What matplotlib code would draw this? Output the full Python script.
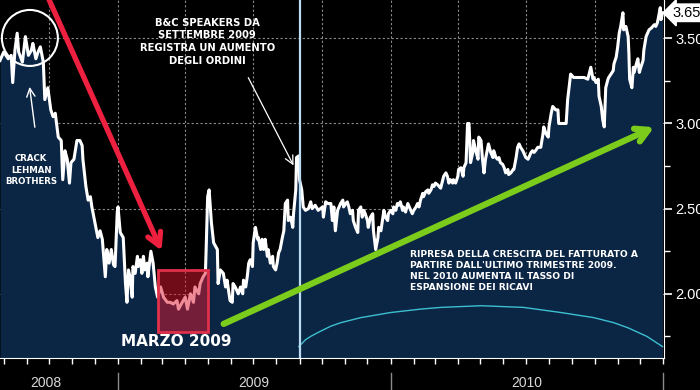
import matplotlib
matplotlib.use('Agg')
import matplotlib.pyplot as plt
import matplotlib.dates as mdates
from matplotlib.patches import Rectangle, Ellipse
import numpy as np

# B&C Speakers share price, Jul 2008 - Dec 2010 (days counted from start)
start = np.datetime64('2008-07-27')
days = [0, 5, 11, 15, 17, 20, 23, 25, 30, 34,
        38, 42, 44, 48, 51, 54, 58, 60, 64, 68,
        71, 74, 78, 82, 83, 84, 87, 90, 93, 95,
        99, 103, 107, 110, 111, 115, 118, 121, 123, 127,
        131, 134, 137, 141, 143, 146, 149, 152, 154, 157,
        158, 161, 165, 168, 170, 172, 174, 177, 178, 181,
        184, 185, 188, 190, 192, 194, 197, 198, 202, 205,
        208, 211, 215, 219, 224, 228, 232, 237, 239, 244,
        248, 251, 255, 259, 261, 266, 268, 272, 275, 276,
        278, 280, 283, 286, 291, 292, 295, 299, 302, 304,
        308, 311, 312, 315, 319, 322, 325, 326, 329, 331,
        333, 335, 338, 339, 342, 345, 346, 349, 351, 353,
        355, 358, 359, 362, 365, 366, 369, 371, 373, 375,
        378, 380, 382, 385, 386, 389, 392, 393, 396, 397,
        400, 401, 404, 406, 409, 413, 416, 418, 422, 426,
        432, 433, 436, 439, 443, 445, 447, 449, 452, 456,
        459, 460, 463, 465, 467, 469, 472, 473, 476, 479,
        480, 483, 485, 487, 489, 492, 493, 496, 499, 500,
        503, 506, 507, 510, 512, 514, 516, 519, 520, 523,
        526, 527, 530, 532, 534, 536, 539, 540, 543, 546,
        547, 550, 552, 554, 557, 559, 561, 563, 566, 567,
        570, 573, 574, 577, 579, 581, 583, 586, 590, 594,
        597, 599, 601, 603, 606, 607, 610, 613, 614, 617,
        620, 621, 624, 626, 628, 630, 633, 634, 637, 640,
        641, 644, 646, 648, 650, 653, 654, 657, 660, 661,
        664, 666, 668, 670, 673, 675, 677, 680, 681, 684,
        687, 688, 691, 693, 695, 697, 700, 701, 704, 707,
        708, 711, 713, 715, 717, 720, 721, 724, 727, 728,
        731, 734, 735, 738, 740, 742, 744, 747, 748, 754,
        758, 760, 764, 768, 774, 778, 782, 787, 791, 794,
        795, 798, 801, 802, 805, 807, 809, 810, 811, 814,
        815, 818, 821, 822, 825, 827, 829, 831, 834, 835,
        838, 841, 842, 843, 846, 848, 849, 852, 854, 856,
        858, 861, 862, 865, 868, 869, 872, 874, 876, 878,
        880, 881, 884, 885, 887]
price = [3.37, 3.42, 3.38, 3.40, 3.24, 3.43, 3.53, 3.42, 3.36, 3.51,
         3.40, 3.43, 3.47, 3.38, 3.42, 3.45, 3.36, 3.14, 3.21, 3.08,
         3.04, 3.06, 2.92, 2.90, 2.79, 2.67, 2.84, 2.79, 2.65, 2.77,
         2.79, 2.90, 2.90, 2.87, 2.79, 2.63, 2.55, 2.57, 2.51, 2.42,
         2.33, 2.37, 2.32, 2.10, 2.26, 2.18, 2.26, 2.17, 2.16, 2.48,
         2.51, 2.36, 2.33, 2.06, 1.95, 2.14, 2.10, 1.98, 2.16, 2.12,
         2.22, 2.16, 2.20, 2.12, 2.22, 2.14, 2.18, 2.10, 2.25, 2.18,
         2.04, 1.98, 2.04, 1.98, 1.95, 1.95, 1.94, 1.96, 1.91, 1.95,
         1.98, 1.91, 2.00, 1.95, 2.04, 2.00, 2.06, 2.10, 2.12, 2.26,
         2.57, 2.61, 2.42, 2.30, 2.26, 2.06, 2.14, 2.12, 2.04, 2.08,
         1.96, 1.95, 2.06, 2.04, 2.00, 2.04, 2.00, 2.08, 2.04, 2.10,
         2.18, 2.20, 2.16, 2.30, 2.39, 2.32, 2.33, 2.26, 2.32, 2.26,
         2.32, 2.22, 2.26, 2.18, 2.22, 2.16, 2.14, 2.18, 2.24, 2.26,
         2.33, 2.37, 2.53, 2.55, 2.43, 2.45, 2.39, 2.47, 2.61, 2.80,
         2.81, 2.67, 2.61, 2.51, 2.49, 2.50, 2.54, 2.50, 2.52, 2.49,
         2.51, 2.45, 2.54, 2.53, 2.53, 2.43, 2.51, 2.37, 2.49, 2.53,
         2.55, 2.51, 2.53, 2.54, 2.51, 2.47, 2.49, 2.43, 2.39, 2.36,
         2.49, 2.51, 2.45, 2.49, 2.47, 2.43, 2.39, 2.45, 2.47, 2.37,
         2.26, 2.33, 2.39, 2.37, 2.43, 2.49, 2.45, 2.43, 2.47, 2.49,
         2.47, 2.51, 2.49, 2.53, 2.52, 2.54, 2.49, 2.51, 2.48, 2.53,
         2.52, 2.49, 2.47, 2.49, 2.51, 2.53, 2.51, 2.55, 2.59, 2.57,
         2.60, 2.61, 2.59, 2.61, 2.64, 2.63, 2.65, 2.64, 2.62, 2.69,
         2.71, 2.69, 2.65, 2.67, 2.65, 2.67, 2.65, 2.69, 2.73, 2.74,
         2.69, 2.74, 2.77, 3.00, 3.00, 2.77, 2.83, 2.90, 2.84, 2.79,
         2.92, 2.90, 2.79, 2.71, 2.79, 2.86, 2.88, 2.83, 2.80, 2.84,
         2.80, 2.79, 2.80, 2.77, 2.76, 2.74, 2.71, 2.73, 2.70, 2.71,
         2.73, 2.73, 2.80, 2.86, 2.88, 2.86, 2.84, 2.83, 2.80, 2.79,
         2.80, 2.83, 2.84, 2.83, 2.84, 2.86, 2.86, 2.86, 2.94, 2.98,
         2.94, 2.92, 2.98, 3.06, 3.10, 3.09, 3.08, 3.08, 3.00, 3.00,
         3.00, 3.14, 3.29, 3.27, 3.27, 3.27, 3.27, 3.26, 3.33, 3.26,
         3.27, 3.24, 3.26, 3.16, 3.10, 3.02, 2.98, 3.10, 3.21, 3.26,
         3.27, 3.29, 3.31, 3.35, 3.39, 3.45, 3.53, 3.57, 3.65, 3.55,
         3.57, 3.51, 3.41, 3.26, 3.21, 3.33, 3.30, 3.35, 3.38, 3.30,
         3.33, 3.37, 3.43, 3.51, 3.54, 3.55, 3.56, 3.57, 3.58, 3.57,
         3.59, 3.61, 3.68, 3.61, 3.65]
last_price = 3.65

# cyan curve in the lower part of the chart
curve_days = [400, 409, 416, 429, 443, 456, 483, 523, 563, 590, 644,
              701, 751, 795, 822, 841, 866, 887]
curve_vals = [1.69, 1.73, 1.75, 1.78, 1.81, 1.83, 1.86, 1.89, 1.91, 1.92, 1.93,
              1.92, 1.89, 1.86, 1.83, 1.80, 1.75, 1.69]

# "Marzo 2009" highlight box
box_days = (212, 278)
box_vals = (1.776, 2.140)

marker_date = np.datetime64('2009-09-01')
years = ['2008', '2009', '2010']
year_mid = ['2008-09-27', '2009-07-02', '2010-07-02']
y_major = [2.00, 2.50, 3.00, 3.50]
y_minor = [1.75, 2.25, 2.75, 3.25]

dates = start + np.array(days).astype('timedelta64[D]')
curve_dates = start + np.array(curve_days).astype('timedelta64[D]')

fig = plt.figure(figsize=(7, 3.9), dpi=100, facecolor='black')
ax = fig.add_axes([0, 32 / 390, 664 / 700, 358 / 390])
ax.set_facecolor('black')

ymin, ymax = 1.623, 3.725
ax.fill_between(dates, price, ymin, color='#0b2545', lw=0, zorder=1)
ax.plot(dates, price, color='white', lw=2.2, zorder=3)
ax.plot(curve_dates, curve_vals, color='#3cc0d0', lw=1.0, zorder=2)
ax.axvline(marker_date, color='#bcdcf4', lw=1.6, zorder=4)

bx0 = start + np.timedelta64(box_days[0], 'D')
bx1 = start + np.timedelta64(box_days[1], 'D')
x0n, x1n = mdates.date2num(bx0), mdates.date2num(bx1)
ax.add_patch(Rectangle((x0n, box_vals[0]), x1n - x0n, box_vals[1] - box_vals[0],
                       fc='#e01830', alpha=0.5, lw=0, zorder=5))
ax.add_patch(Rectangle((x0n, box_vals[0]), x1n - x0n, box_vals[1] - box_vals[0],
                       fill=False, ec='#e0304a', lw=2, zorder=6))

ax.set_ylim(ymin, ymax)
ax.set_xlim(start, start + np.timedelta64(889, 'D'))

# axes styling
for s in ['left', 'top']:
    ax.spines[s].set_visible(False)
ax.spines['bottom'].set_color('white')
ax.spines['right'].set_color('white')
ax.yaxis.tick_right()
ax.set_yticks(y_major)
ax.set_yticks(y_minor, minor=True)
ax.set_yticklabels(['%.2f' % v for v in y_major])
ax.tick_params(axis='y', which='major', colors='white', length=6, width=1.2,
               pad=2, labelsize=10.5)
ax.tick_params(axis='y', which='minor', colors='white', length=4, width=1)
for lab in ax.get_yticklabels():
    lab.set_fontfamily('Liberation Sans')

ax.xaxis.set_major_locator(mdates.MonthLocator())
ax.xaxis.set_major_formatter(plt.NullFormatter())
ax.tick_params(axis='x', colors='white', length=4, width=1)

for q in ['2008-10-01', '2009-04-01', '2009-07-01', '2009-10-01',
          '2010-04-01', '2010-07-01', '2010-10-01', '2009-01-01', '2010-01-01']:
    ax.axvline(np.datetime64(q), color='#8a8a8a', lw=0.8, ls=(0, (2, 2)), zorder=0.5)
for v in y_major:
    ax.axhline(v, color='#8a8a8a', lw=0.8, ls=(0, (2, 2)), zorder=0.5)

# year labels and separators in the bottom strip
xt = ax.get_xaxis_transform()
for lab, mid in zip(years, year_mid):
    ax.text(np.datetime64(mid), -0.07, lab, transform=xt, ha='center', va='center',
            color='#d8d8d8', fontsize=10, family='Liberation Sans')
for sep in ['2009-01-01', '2010-01-01', '2011-01-01']:
    ax.plot([np.datetime64(sep)] * 2, [-0.042, -0.095], transform=xt,
            color='#8a8a8a', lw=1, clip_on=False)

# last price tag
ax.annotate('%.2f' % last_price, xy=(1.0, last_price), xycoords=ax.get_yaxis_transform(),
            xytext=(6, 0), textcoords='offset points', ha='left', va='center',
            fontsize=10.5, color='black', family='Liberation Sans', annotation_clip=False,
            bbox=dict(boxstyle='larrow,pad=0.12', fc='white', ec='white'))

# annotations
bold = dict(color='white', fontweight='bold', family='DejaVu Sans')
ax.annotate('', xy=(0.245, 0.293), xytext=(0.062, 1.05), xycoords='axes fraction',
            arrowprops=dict(arrowstyle='->,head_length=0.9,head_width=0.5',
                            color='#ee2040', lw=3.8), zorder=7, annotation_clip=False)
ax.annotate('', xy=(0.989, 0.648), xytext=(0.333, 0.092), xycoords='axes fraction',
            arrowprops=dict(arrowstyle='->,head_length=0.9,head_width=0.5',
                            color='#7ccc1c', lw=4.5), zorder=7)

ax.add_patch(Ellipse((0.045, 0.894), 56 / 664, 56 / 358, transform=ax.transAxes,
                     fill=False, ec='white', lw=1.5, zorder=7))
ax.annotate('', xy=(0.044, 0.765), xytext=(0.053, 0.637), xycoords='axes fraction',
            arrowprops=dict(arrowstyle='->,head_length=0.6,head_width=0.3',
                            color='white', lw=1.0), zorder=7)
ax.text(0.047, 0.525, 'CRACK\nLEHMAN\nBROTHERS', transform=ax.transAxes,
        ha='center', va='center', fontsize=6.2, linespacing=1.35, zorder=7, **bold)

ax.text(0.312, 0.883, 'B&C SPEAKERS DA\nSETTEMBRE 2009\nREGISTRA UN AUMENTO\nDEGLI ORDINI',
        transform=ax.transAxes, ha='center', va='center', fontsize=7.2,
        linespacing=1.35, zorder=7, **bold)
ax.annotate('', xy=(0.444, 0.531), xytext=(0.372, 0.790), xycoords='axes fraction',
            arrowprops=dict(arrowstyle='->,head_length=0.6,head_width=0.3',
                            color='white', lw=0.9), zorder=7)

ax.text(0.265, 0.047, 'MARZO 2009', transform=ax.transAxes, ha='center', va='center',
        fontsize=11, zorder=7, **bold)
ax.text(0.617, 0.243, "RIPRESA DELLA CRESCITA DEL FATTURATO A\n"
        "PARTIRE DALL'ULTIMO TRIMESTRE 2009.\nNEL 2010 AUMENTA IL TASSO DI\n"
        "ESPANSIONE DEI RICAVI", transform=ax.transAxes, ha='left', va='center',
        fontsize=6.6, linespacing=1.3, zorder=7, **bold)

fig.savefig('out.png', dpi=100, facecolor='black')
